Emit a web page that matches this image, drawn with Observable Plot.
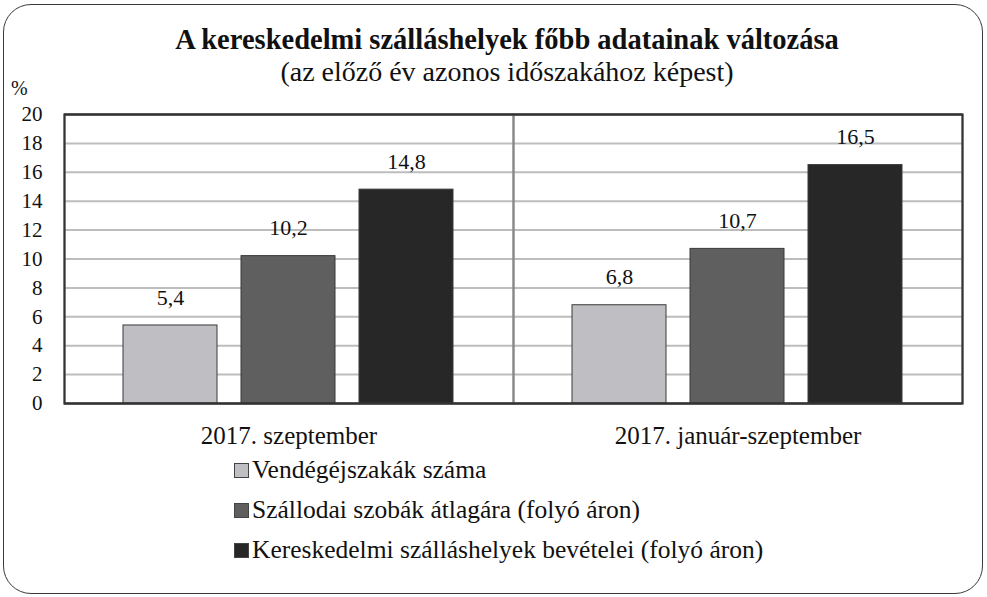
<!DOCTYPE html>
<html>
<head>
<meta charset="utf-8">
<script src="https://cdn.jsdelivr.net/npm/d3@7"></script>
<script src="https://cdn.jsdelivr.net/npm/@observablehq/plot@0.6"></script>
<style>
  html, body { margin: 0; padding: 0; background: #fff; }
  #wrap { position: relative; width: 987px; height: 597px; font-family: "Liberation Serif", "DejaVu Serif", serif; color: #111; overflow: hidden; }
  #border { position: absolute; left: 3px; top: 4px; width: 978px; height: 588px; border: 1.6px solid #3a3a3a; border-radius: 28px; }
  #title { position: absolute; left: 0; width: 1014px; top: 24px; text-align: center; font-weight: bold; font-size: 28.5px; line-height: 32px; }
  #subtitle { position: absolute; left: 0; width: 1014px; top: 56px; text-align: center; font-size: 28px; line-height: 31px; }
  #pct { position: absolute; left: 11px; top: 77px; font-size: 20px; }
  #chart { position: absolute; left: 0; top: 0; }
  #legend { position: absolute; left: 234px; top: 450px; font-size: 25.5px; }
  .row { display: flex; align-items: center; height: 40px; }
  .sw { width: 15px; height: 15px; border: 1px solid #444; margin-right: 3px; box-sizing: border-box; }
</style>
</head>
<body>
<div id="wrap">
  <div id="border"></div>
  <div id="title">A kereskedelmi szálláshelyek főbb adatainak változása</div>
  <div id="subtitle">(az előző év azonos időszakához képest)</div>
  <div id="pct">%</div>
  <div id="chart"></div>
  <div id="legend"></div>
</div>
<script>
const groups = ["2017. szeptember", "2017. január-szeptember"];
const series = [
  "Vendégéjszakák száma",
  "Szállodai szobák átlagára (folyó áron)",
  "Kereskedelmi szálláshelyek bevételei (folyó áron)"
];
const septemberValues = [5.4, 10.2, 14.8];
const janSeptValues = [6.8, 10.7, 16.5];
const yTicks = [0, 2, 4, 6, 8, 10, 12, 14, 16, 18, 20];
const gridTicks = [2, 4, 6, 8, 10, 12, 14, 16, 18];
const colors = ["#bfbfc3", "#5f5f5f", "#272727"];

const valuesByGroup = [septemberValues, janSeptValues];
const data = [];
groups.forEach((g, gi) => {
  series.forEach((s, si) => {
    data.push({group: g, series: s, value: valuesByGroup[gi][si]});
  });
});

const fmt = v => v.toFixed(1).replace(".", ",");

let marks = [
  Plot.ruleY(gridTicks, {stroke: "#bdbdbd", strokeWidth: 2}),
  Plot.frame({stroke: "#8a8a8a", strokeWidth: 2}),
  Plot.barY(data, {fx: "group", x: "series", y: "value", fill: "series", stroke: "#3a3a3a", strokeWidth: 1}),
  Plot.text(data, {fx: "group", x: "series", y: "value", text: d => fmt(d.value), dy: -28, lineAnchor: "middle", fontSize: 22, fill: "#111"}),
  Plot.axisY(yTicks, {tickSize: 0, tickPadding: 22, fontSize: 21, label: null, tickFormat: d => String(d), fill: "#111"}),
  Plot.axisFx({anchor: "bottom", tickSize: 0, tickPadding: 23, fontSize: 25, label: null, fill: "#111"}),
  Plot.ruleY([0, 20], {stroke: "#333", strokeWidth: 2})
];
let superFrame = Plot.frame({facet: "super", stroke: "#333", strokeWidth: 2});

function build(withSuper) {
  return Plot.plot({
    width: 987,
    height: 440,
    marginLeft: 63,
    marginRight: 25,
    marginTop: 114,
    marginBottom: 37,
    style: {fontFamily: "Liberation Serif", fontSize: "21px", background: "transparent", overflow: "visible", color: "#111"},
    fx: {domain: groups, padding: 0},
    x: {domain: series, paddingInner: 0.2, paddingOuter: 0.49, axis: null},
    y: {domain: [0, 20], axis: null},
    color: {domain: series, range: colors},
    marks: withSuper ? [...marks, superFrame] : marks
  });
}
let chart;
try { chart = build(true); } catch (e) { chart = build(false); }
document.getElementById("chart").appendChild(chart);

const legend = document.getElementById("legend");
series.forEach((s, i) => {
  const row = document.createElement("div");
  row.className = "row";
  const sw = document.createElement("div");
  sw.className = "sw";
  sw.style.background = colors[i];
  const t = document.createElement("span");
  t.textContent = s;
  row.appendChild(sw);
  row.appendChild(t);
  legend.appendChild(row);
});
</script>
</body>
</html>
